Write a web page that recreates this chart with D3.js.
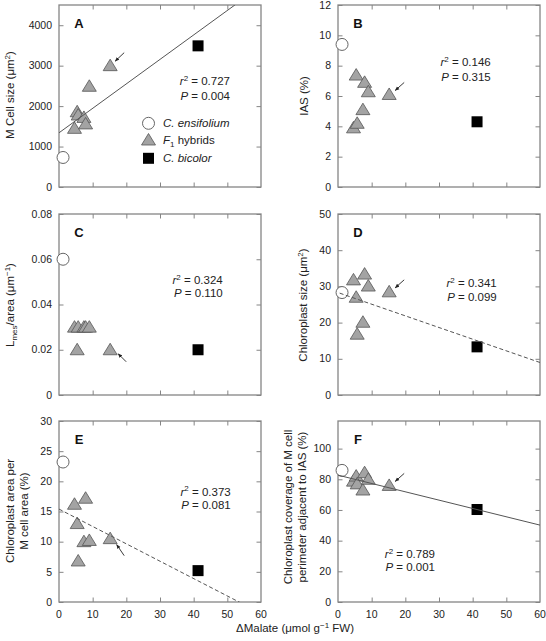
<!DOCTYPE html>
<html><head><meta charset="utf-8">
<script src="https://cdn.jsdelivr.net/npm/d3@7"></script>
<style>body{margin:0;background:#fff}svg{font-family:"Liberation Sans",Arial,Helvetica,sans-serif}</style>
</head><body><svg id="c" width="546" height="641"></svg>
<script>
// ---- data ----
const malate = [1.2, 4.6, 5.4, 5.7, 7.4, 7.9, 9.0, 15.2, 41.3];
const groups = ["ens","hyb","hyb","hyb","hyb","hyb","hyb","hyb","bic"];
const cellSize    = [730, 1450, 1860, 1780, 1720, 1560, 2490, 3000, 3490];
const ias         = [9.4, 3.9, 7.38, 4.2, 5.1, 6.9, 6.28, 6.1, 4.3];
const lmesArea    = [0.06, 0.03, 0.02, 0.03, 0.03, 0.03, 0.03, 0.02, 0.02];
const chlSize     = [28.3, 31.8, 27.0, 16.8, 20.1, 33.4, 30.1, 28.5, 13.3];
const chlArea     = [23.2, 16.2, 13.0, 6.8, 10.0, 17.2, 10.2, 10.5, 5.2];
const chlCoverage = [85.8, 78.8, 82.1, 77.0, 73.0, 84.3, 80.0, 76.0, 60.3];
const panelValues = [cellSize, ias, lmesArea, chlSize, chlArea, chlCoverage];
const panelLetters = ["A","B","C","D","E","F"];
const yMax  = [4500, 12, 0.08, 50, 30, 118];
const yStep = [1000, 2, 0.02, 10, 5, 20];
const xTicks = [0, 10, 20, 30, 40, 50, 60];
const fitIntercept = [1340, null, null, 28.3, 15.4, 82.7];
const fitSlope     = [60.5, null, null, -0.322, -0.288, -0.543];
const fitStart     = [0, null, null, 0.5, 0, 0];
const fitDashed    = [false, null, null, true, true, false];
const r2   = ["0.727","0.146","0.324","0.341","0.373","0.789"];
const pval = ["0.004","0.315","0.110","0.099","0.081","0.001"];
const legendLabels = ["ens","hyb","bic"];
const arrowIndex = 7; // the arrowed F1 hybrid

// ---- layout ----
const svg = d3.select("#c");
const colX = [59, 338], W = 202;
const rowY = [[5,187],[214,395],[421,602]];
const statPos = [[171,80,15],[152.7,61,15],[163.7,70,12.7],[158.7,73,14],[171.7,74.5,13.3],[97,137,13.3]];
const arrowOff = [[[14,-13],[5,-4.5]],[[15,-12],[6,-4]],[[16,12],[8,4]],[[15,-12],[6,-4]],[[14,17],[6.5,6]],[[15,-12],[6,-4]]];
const frameCol = "#858585", textCol = "#222";

const defs = svg.append("defs");
defs.append("marker").attr("id","ah").attr("viewBox","0 0 10 10")
  .attr("refX",9).attr("refY",5).attr("markerWidth",5).attr("markerHeight",5).attr("orient","auto")
  .append("path").attr("d","M0,1 L10,5 L0,9 Z").attr("fill","#222");

panelValues.forEach((vals, i) => {
  const col = i % 2, row = Math.floor(i/2);
  const x0 = colX[col], y0 = rowY[row][0], y1 = rowY[row][1];
  const x = d3.scaleLinear().domain([0,60]).range([x0, x0+W]);
  const y = d3.scaleLinear().domain([0,yMax[i]]).range([y1, y0]);
  const g = svg.append("g");
  const yT = d3.range(0, yMax[i] + yStep[i]*0.01, yStep[i]);
  const fmt = i===2 ? (d => d===0 ? "0" : d.toFixed(2)) : (d => String(Math.round(d)));

  const cid = "clip"+i;
  defs.append("clipPath").attr("id",cid).append("rect")
    .attr("x",x0).attr("y",y0).attr("width",W).attr("height",y1-y0);

  // axes with inward ticks on all four sides
  const tl = 4.5;
  const style = s=>{s.select(".domain").remove(); s.selectAll("line").attr("stroke",frameCol);};
  g.append("g").attr("transform",`translate(${x0},0)`).call(d3.axisRight(y).tickValues(yT).tickSize(tl).tickFormat("")).call(style);
  g.append("g").attr("transform",`translate(${x0+W},0)`).call(d3.axisLeft(y).tickValues(yT).tickSize(tl).tickFormat("")).call(style);
  g.append("g").attr("transform",`translate(0,${y0})`).call(d3.axisBottom(x).tickValues(xTicks.slice(1,-1)).tickSize(tl).tickFormat("")).call(style);
  g.append("g").attr("transform",`translate(0,${y1})`).call(d3.axisTop(x).tickValues(xTicks.slice(1,-1)).tickSize(tl).tickFormat("")).call(style);
  g.append("rect").attr("x",x0).attr("y",y0).attr("width",W).attr("height",y1-y0)
    .attr("fill","none").attr("stroke",frameCol).attr("stroke-width",1.3);

  g.selectAll(".yl").data(yT).join("text").attr("x",x0-7).attr("y",d=>y(d)).attr("dy","0.35em")
    .attr("text-anchor","end").attr("font-size",10.5).attr("fill",textCol).text(fmt);
  if (row === 2) {
    g.selectAll(".xl").data(xTicks).join("text").attr("x",d=>x(d)).attr("y",y1+12).attr("dy","0.35em")
      .attr("text-anchor","middle").attr("font-size",10.5).attr("fill",textCol).text(d=>d);
  }

  // points
  const pts = malate.map((m,k)=>({m, v:vals[k], g:groups[k]}));
  const pg = g.append("g");
  pts.forEach(p=>{
    const cx = x(p.m), cy = y(p.v);
    if (p.g==="ens") pg.append("circle").attr("cx",cx).attr("cy",cy).attr("r",6).attr("fill","#fff").attr("stroke","#666").attr("stroke-width",1);
    else if (p.g==="hyb") pg.append("path").attr("d","M0,-6.5 L7,5 L-7,5 Z").attr("transform",`translate(${cx},${cy})`)
      .attr("fill","#a3a3a3").attr("stroke","#555").attr("stroke-width",0.8);
    else pg.append("rect").attr("x",cx-5.5).attr("y",cy-5.5).attr("width",11).attr("height",11).attr("fill","#000");
  });

  // regression line
  if (fitSlope[i] !== null) {
    const xs = [fitStart[i], 60];
    g.append("line").attr("clip-path",`url(#${cid})`)
      .attr("x1",x(xs[0])).attr("y1",y(fitIntercept[i]+fitSlope[i]*xs[0]))
      .attr("x2",x(xs[1])).attr("y2",y(fitIntercept[i]+fitSlope[i]*xs[1]))
      .attr("stroke","#555").attr("stroke-width",1)
      .attr("stroke-dasharray", fitDashed[i] ? "4,2.5" : null);
  }

  // arrow
  const ax = x(malate[arrowIndex]), ay = y(vals[arrowIndex]);
  const [tail, tip] = arrowOff[i];
  g.append("line").attr("x1",ax+tail[0]).attr("y1",ay+tail[1]).attr("x2",ax+tip[0]).attr("y2",ay+tip[1])
    .attr("stroke","#222").attr("stroke-width",0.9).attr("marker-end","url(#ah)");

  // panel letter
  g.append("text").attr("x",x0+20).attr("y",y0+23).attr("text-anchor","middle").attr("font-size",13).attr("font-weight","bold").attr("fill","#111").text(panelLetters[i]);

  // stats
  const [sx, sy, sp] = statPos[i];
  const t1 = g.append("text").attr("x",x0+sx).attr("y",y0+sy).attr("text-anchor","end").attr("font-size",11.5).attr("fill",textCol);
  t1.append("tspan").attr("font-style","italic").text("r");
  t1.append("tspan").attr("font-size",8).attr("dy",-4.5).text("2");
  t1.append("tspan").attr("dy",4.5).text(" = " + r2[i]);
  const t2 = g.append("text").attr("x",x0+sx).attr("y",y0+sy+sp).attr("text-anchor","end").attr("font-size",11.5).attr("fill",textCol);
  t2.append("tspan").attr("font-style","italic").text("P");
  t2.append("tspan").text(" = " + pval[i]);
});

// y-axis labels
function ylab(cx, cy){ return svg.append("text").attr("transform",`translate(${cx},${cy}) rotate(-90)`).attr("text-anchor","middle")
  .attr("dy","0.35em").attr("font-size",11.5).attr("fill",textCol); }
let t = ylab(10, 95); t.append("tspan").text("M Cell size (μm"); t.append("tspan").attr("font-size",8).attr("dy",-4.5).text("2"); t.append("tspan").attr("dy",4.5).text(")");
ylab(304, 96).text("IAS (%)");
t = ylab(10, 305); t.append("tspan").text("L"); t.append("tspan").attr("font-size",8).attr("dy",3).text("mes"); t.append("tspan").attr("dy",-3).text("/area (μm");
  t.append("tspan").attr("font-size",8).attr("dy",-4.5).text("−1"); t.append("tspan").attr("dy",4.5).text(")");
t = ylab(303, 305); t.append("tspan").text("Chloroplast size (μm"); t.append("tspan").attr("font-size",8).attr("dy",-4.5).text("2"); t.append("tspan").attr("dy",4.5).text(")");
ylab(10, 511).text("Chloroplast area per");
ylab(24, 511).text("M cell area (%)");
ylab(288, 507).text("Chloroplast coverage of M cell");
ylab(302, 507).text("perimeter adjacent to IAS (%)");

// x-axis label
const xl = svg.append("text").attr("x",295).attr("y",628).attr("dy","0.35em").attr("text-anchor","middle").attr("font-size",11.5).attr("fill",textCol);
xl.append("tspan").text("ΔMalate (μmol g");
xl.append("tspan").attr("font-size",8).attr("dy",-4.5).text("−1");
xl.append("tspan").attr("dy",4.5).text(" FW)");

// legend (panel A)
const lg = svg.append("g");
const legY = [123.3, 140, 158.3];
legendLabels.forEach((k,j)=>{
  const cy = legY[j];
  if (k==="ens") lg.append("circle").attr("cx",148.5).attr("cy",cy).attr("r",6).attr("fill","#fff").attr("stroke","#666");
  else if (k==="hyb") lg.append("path").attr("d","M0,-6.5 L7,5 L-7,5 Z").attr("transform",`translate(148.5,${cy})`).attr("fill","#a3a3a3").attr("stroke","#555").attr("stroke-width",0.8);
  else lg.append("rect").attr("x",143).attr("y",cy-5.5).attr("width",11).attr("height",11).attr("fill","#000");
  const tx = lg.append("text").attr("x",163).attr("y",cy).attr("dy","0.35em").attr("font-size",11.5).attr("fill",textCol);
  if (k==="ens") tx.attr("font-style","italic").text("C. ensifolium");
  else if (k==="bic") tx.attr("font-style","italic").text("C. bicolor");
  else { tx.append("tspan").attr("font-style","italic").text("F"); tx.append("tspan").attr("font-size",8).attr("dy",3).text("1"); tx.append("tspan").attr("dy",-3).text(" hybrids"); }
});
</script></body></html>
